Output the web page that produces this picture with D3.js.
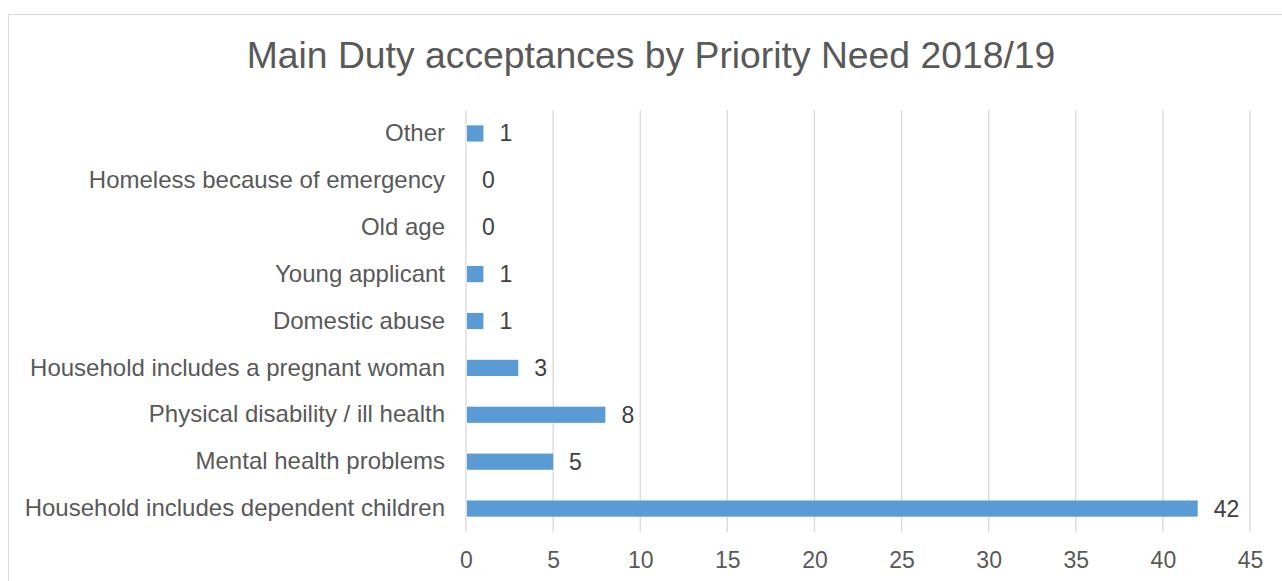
<!DOCTYPE html>
<html><head><meta charset="utf-8">
<script src="https://cdn.jsdelivr.net/npm/d3@7"></script>
<style>body{margin:0;background:#fff}svg{display:block}text{font-family:"Liberation Sans",Arial,sans-serif}</style>
</head><body>
<script>
const categories = ["Other","Homeless because of emergency","Old age","Young applicant","Domestic abuse","Household includes a pregnant woman","Physical disability / ill health","Mental health problems","Household includes dependent children"];
const values = [1,0,0,1,1,3,8,5,42];
const xTicks = [0,5,10,15,20,25,30,35,40,45];
const title = "Main Duty acceptances by Priority Need 2018/19";

const W = 1282, H = 581;
const FONT = '"Liberation Sans",Arial,sans-serif';
const svg = d3.select("body").append("svg").attr("width", W).attr("height", H);
svg.append("rect").attr("x", 8.5).attr("y", 14.5).attr("width", 1286).attr("height", 600)
  .attr("fill", "#fff").attr("stroke", "#d9d9d9").attr("stroke-width", 1);

const m = {left: 466, right: 1250, top: 110, bottom: 532};
const x = d3.scaleLinear().domain([0, 45]).range([m.left, m.right]);
const y = d3.scaleBand().domain(categories).range([m.top, m.bottom]).paddingInner(0.655).paddingOuter(0.3275);

svg.append("text").attr("x", 651).attr("y", 68).attr("text-anchor", "middle")
  .attr("font-size", 37.3).attr("fill", "#595959").text(title);

// gridlines
svg.append("g").selectAll("line").data(xTicks).join("line")
  .attr("x1", d => x(d)).attr("x2", d => x(d)).attr("y1", m.top).attr("y2", m.bottom)
  .attr("stroke", "#d9d9d9").attr("stroke-width", 1.3);

// x axis
const xAxis = svg.append("g").attr("transform", `translate(0,${m.bottom})`)
  .call(d3.axisBottom(x).tickValues(xTicks).tickSize(0).tickPadding(20));
xAxis.select(".domain").remove();
xAxis.selectAll("text").attr("font-size", 23).attr("fill", "#595959").attr("font-family", FONT);

// y axis
const yAxis = svg.append("g").attr("transform", `translate(${m.left},0)`)
  .call(d3.axisLeft(y).tickSize(0).tickPadding(21));
yAxis.select(".domain").remove();
yAxis.selectAll("text").attr("font-size", 24).attr("fill", "#595959").attr("font-family", FONT);

// bars
svg.append("g").selectAll("rect").data(values).join("rect")
  .attr("x", x(0) + 1).attr("y", (d, i) => y(categories[i]))
  .attr("width", d => Math.max(0, x(d) - x(0) - 1)).attr("height", y.bandwidth())
  .attr("fill", "#5b9bd5");

// data labels
svg.append("g").selectAll("text").data(values).join("text")
  .attr("x", d => x(d) + 16).attr("y", (d, i) => y(categories[i]) + y.bandwidth() / 2)
  .attr("dy", "0.35em").attr("font-size", 23).attr("fill", "#404040").text(d => d);
</script>
</body></html>
